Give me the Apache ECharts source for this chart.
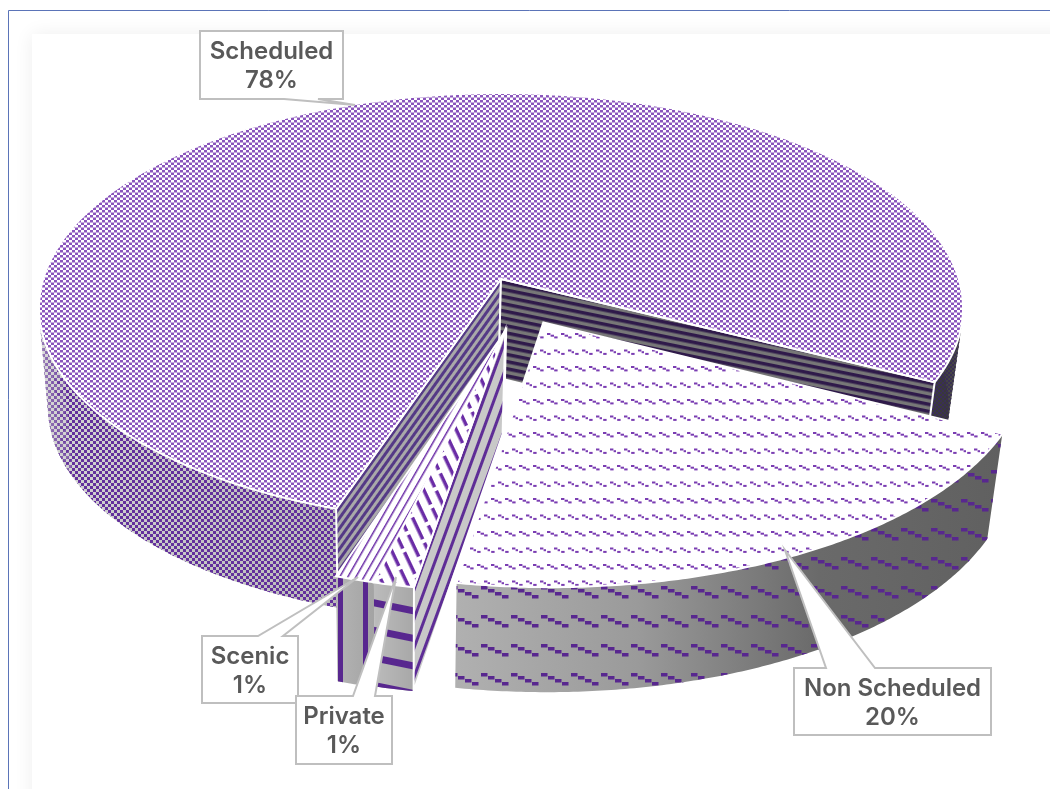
<!DOCTYPE html>
<html>
<head>
<meta charset="utf-8">
<title>Flight types</title>
<style>
  html, body { margin: 0; padding: 0; background: #fff; }
  #main { width: 1050px; height: 789px; }
</style>
<script src="https://cdn.jsdelivr.net/npm/echarts@6/dist/echarts.min.js"></script>
</head>
<body>
<div id="main"></div>
<script>
// 数据
const categories = ['Scheduled', 'Non Scheduled', 'Private', 'Scenic']
const shares = [77.5, 20.1, 1.2, 1.2]

// exploded offset of each slice, in pie units
const explodeU = [0, 0.09, 0.009, 0.011]
const explodeV = [0, 0.2, 0.234, 0.234]
const sliceRadius = [1, 1.02, 1, 1]
const sliceDepth = [99, 105, 104, 105]

// back to front
const drawOrder = [0, 3, 2, 1]
const firstSliceAngle = 198.3

// perspective of the pie
const view = { cx: 501, cy: 279, rx: 457.8, ry: 211, persp: 0.135, vanishX: 400, bottomScale: 0.975 }

const purple = '#6a2ca6'
const deep = '#63309c'

// 图案
const tile = (w, h, draw, extra) => {
  const canvas = document.createElement('canvas')
  canvas.width = w
  canvas.height = h
  draw(canvas.getContext('2d'))
  return Object.assign({ image: canvas, repeat: 'repeat' }, extra || {})
}

const bars = (w, h, bg, fg, thick, extra) => tile(w, h, (c) => {
  if (bg) {
    c.fillStyle = bg
    c.fillRect(0, 0, w, h)
  }
  c.fillStyle = fg
  c.fillRect(0, 0, w, thick)
}, extra)

const checker = (w, h, bg, fg) => tile(w, h, (c) => {
  if (bg) {
    c.fillStyle = bg
    c.fillRect(0, 0, w, h)
  }
  c.fillStyle = fg
  c.fillRect(0, 0, w / 2, h / 2)
  c.fillRect(w / 2, h / 2, w / 2, h / 2)
})

const dashes = (w, h, count, bw, bh, dx, dy, colour, x0, y0) => tile(w, h, (c) => {
  c.fillStyle = colour
  for (let i = 0; i < count; i++) {
    c.fillRect(x0 + i * dx, y0 + i * dy, bw, bh)
  }
})

const nsTop = tile(14, 33, (c) => {
  c.fillStyle = '#ffffff'
  c.fillRect(0, 0, 14, 33)
  c.fillStyle = '#7a3db2'
  for (let i = 0; i < 3; i++) {
    c.fillRect(1 + i * 3.6, 3 + i * 1.7, 3.4, 2)
    c.fillRect(((8 + i * 3.6) % 14), 19.5 + i * 1.7, 3.4, 2)
  }
})

const privateTop = tile(28, 22, (c) => {
  c.fillStyle = '#ffffff'
  c.fillRect(0, 0, 28, 22)
  c.fillStyle = purple
  c.fillRect(0, 0, 24, 3.5)
  c.fillRect(14, 11, 14, 3.5)
  c.fillRect(0, 11, 10, 3.5)
}, { rotation: 1.13 })

const gradient = (x, x2, stops) => ({
  type: 'linear', x, y: 0, x2, y2: 0, global: true,
  colorStops: stops.map((s, i) => ({ offset: i / (stops.length - 1), color: s }))
})

// 每块的样式
const sliceStyles = [
  {
    top: checker(6, 5, '#ffffff', '#8a55bc'),
    wallBase: gradient(38, 962, ['#d4d4d4', '#b8b8b8', '#7a7a7a', '#343434']),
    wallMark: checker(6, 6, null, deep),
    wallMarkBack: checker(4, 4, null, '#3a2a60'),
    startFace: bars(1, 6, '#a9a9a9', '#553a86', 3, { rotation: -0.95 }),
    endFace: bars(1, 7, '#777777', '#2f1a4a', 3.5, { rotation: 0.2 })
  },
  {
    top: nsTop,
    wallBase: gradient(457, 1000, ['#b0b0b0', '#9a9a9a', '#6a6a6a', '#606060']),
    wallMark: dashes(30, 29, 4, 6.5, 3.5, 7, 3, '#58278f', 1, 6)
  },
  {
    top: privateTop,
    wallBase: gradient(373, 413, ['#bcbcbc', '#a8a8a8']),
    wallMark: bars(1, 27, null, '#58278f', 7, { rotation: 0.2 }),
    startFace: bars(1, 10, '#c8c8c8', '#5e2d96', 3, { rotation: -1.22 })
  },
  {
    top: bars(1, 7, '#ffffff', purple, 1.5, { rotation: -1.05 }),
    wallBase: gradient(336, 372, ['#b4b4b4', '#a4a4a4']),
    wallMark: tile(25, 1, (c) => {
      c.fillStyle = '#58278f'
      c.fillRect(0, 0, 5, 1)
    }, { x: 338 }),
    startFace: bars(1, 8, '#d0d0d0', purple, 3, { rotation: -1.2 })
  }
]

// 标注框: box, wedge base on one side, wedge tip
const callouts = [
  { box: [200, 31, 343, 99], base: [284, 318], tip: [355, 105], baseY: 99 },
  { box: [794, 668, 991, 735], base: [826, 875], tip: [785, 550], baseY: 668 },
  { box: [296, 696, 392, 764], base: [353, 375], tip: [396, 577], baseY: 696 },
  { box: [202, 636, 298, 703], base: [258, 283], tip: [358, 577], baseY: 636 }
]
const calloutOrder = [0, 1, 3, 2]

// 投影
const rad = (deg) => deg * Math.PI / 180

const topPoint = (u, v) => {
  const s = 1 / (1 - view.persp * v)
  return [view.cx + view.rx * u * s, view.cy + view.ry * v * s]
}

const bottomPoint = (u, v, depth) => {
  const p = topPoint(u, v)
  return [view.vanishX + (p[0] - view.vanishX) * view.bottomScale, p[1] + depth]
}

const rimUV = (deg, i) => [
  Math.sin(rad(deg)) * sliceRadius[i] + explodeU[i],
  -Math.cos(rad(deg)) * sliceRadius[i] + explodeV[i]
]

const poly = (points, fill, stroke, lineWidth) => ({
  type: 'polygon',
  silent: true,
  shape: { points },
  style: { fill, stroke: stroke || 'none', lineWidth: lineWidth || 0 }
})

const total = shares.reduce((a, b) => a + b, 0)
const sliceSpans = []
shares.reduce((start, v) => {
  const end = start + v / total * 360
  sliceSpans.push([start, end])
  return end
}, firstSliceAngle)

const renderSlice = (params, api) => {
  const i = api.value(0)
  const share = api.value(1)
  const st = sliceStyles[i]
  const depth = sliceDepth[i]
  const a0 = sliceSpans[i][0]
  const a1 = a0 + share / total * 360
  const centre = [explodeU[i], explodeV[i]]
  const children = []

  // 外壁, only the part turned to the viewer
  let run = []
  const flush = () => {
    if (run.length > 1) {
      const mark = run[0] > 360 && st.wallMarkBack ? st.wallMarkBack : st.wallMark
      const pts = run.map((a) => topPoint(...rimUV(a, i)))
        .concat(run.slice().reverse().map((a) => bottomPoint(...rimUV(a, i), depth)))
      children.push(poly(pts, st.wallBase))
      children.push(poly(pts, mark))
      // 轮廓: the outline beside the rim turns along the top-to-bottom edges
      run.slice(1).forEach((a, k) => {
        if (Math.abs(Math.sin(rad(a))) < 0.9) return
        const b = run[k]
        const quad = [
          topPoint(...rimUV(b, i)), topPoint(...rimUV(a, i)),
          bottomPoint(...rimUV(a, i), depth), bottomPoint(...rimUV(b, i), depth)
        ]
        children.push(poly(quad, st.wallBase))
        children.push(poly(quad, mark))
      })
    }
    run = []
  }
  const steps = Math.max(4, Math.ceil((a1 - a0) / 0.5))
  for (let k = 0; k <= steps; k++) {
    const a = a0 + (a1 - a0) * k / steps
    if (-Math.cos(rad(a)) > -0.25) run.push(a)
    else flush()
  }
  flush()

  // 切面
  const face = (deg, fill) => {
    const rim = rimUV(deg, i)
    children.push(poly([
      topPoint(...centre), topPoint(...rim), bottomPoint(...rim, depth), bottomPoint(...centre, depth)
    ], fill, '#fff', 2))
  }
  if (st.startFace) face(a0, st.startFace)
  if (st.endFace) face(a1, st.endFace)

  // 顶面
  const topPts = [topPoint(...centre)]
  for (let k = 0; k <= steps; k++) {
    topPts.push(topPoint(...rimUV(a0 + (a1 - a0) * k / steps, i)))
  }
  children.push(poly(topPts, st.top, '#fff', 2))

  return { type: 'group', children }
}

const renderCallout = (params, api) => {
  const i = api.value(0)
  const c = callouts[i]
  const [x0, y0, x1, y1] = c.box
  const pts = c.baseY === y0
    ? [[x0, y0], [c.base[0], y0], c.tip, [c.base[1], y0], [x1, y0], [x1, y1], [x0, y1]]
    : [[x0, y0], [x1, y0], [x1, y1], [c.base[1], y1], c.tip, [c.base[0], y1], [x0, y1]]
  return {
    type: 'group',
    children: [
      poly(pts, '#fff', '#bfbfbf', 2),
      {
        type: 'text',
        silent: true,
        style: {
          text: categories[i] + '\n' + Math.round(shares[i]) + '%',
          x: (x0 + x1) / 2,
          y: (y0 + y1) / 2 + 1.5,
          align: 'center',
          verticalAlign: 'middle',
          fontFamily: 'Inter',
          fontWeight: 600,
          fontSize: 24,
          lineHeight: 29,
          fill: '#595959'
        }
      }
    ]
  }
}

const chart = echarts.init(document.getElementById('main'), null, { renderer: 'canvas' })
chart.setOption({
  animation: false,
  backgroundColor: '#ffffff',
  graphic: [
    {
      type: 'rect',
      silent: true,
      shape: { x: 32, y: 34, width: 1100, height: 900 },
      style: { fill: '#fff', shadowBlur: 18, shadowColor: 'rgba(0,0,0,0.07)' }
    },
    {
      type: 'polyline',
      silent: true,
      shape: { points: [[8.5, 789], [8.5, 10.5], [1050, 10.5]] },
      style: { fill: 'none', stroke: '#5b74b8', lineWidth: 1 }
    }
  ],
  series: [
    {
      type: 'custom',
      coordinateSystem: 'none',
      renderItem: renderSlice,
      data: drawOrder.map((i) => [i, shares[i]])
    },
    {
      type: 'custom',
      coordinateSystem: 'none',
      renderItem: renderCallout,
      z: 5,
      data: calloutOrder.map((i) => [i])
    }
  ]
})
</script>
</body>
</html>
